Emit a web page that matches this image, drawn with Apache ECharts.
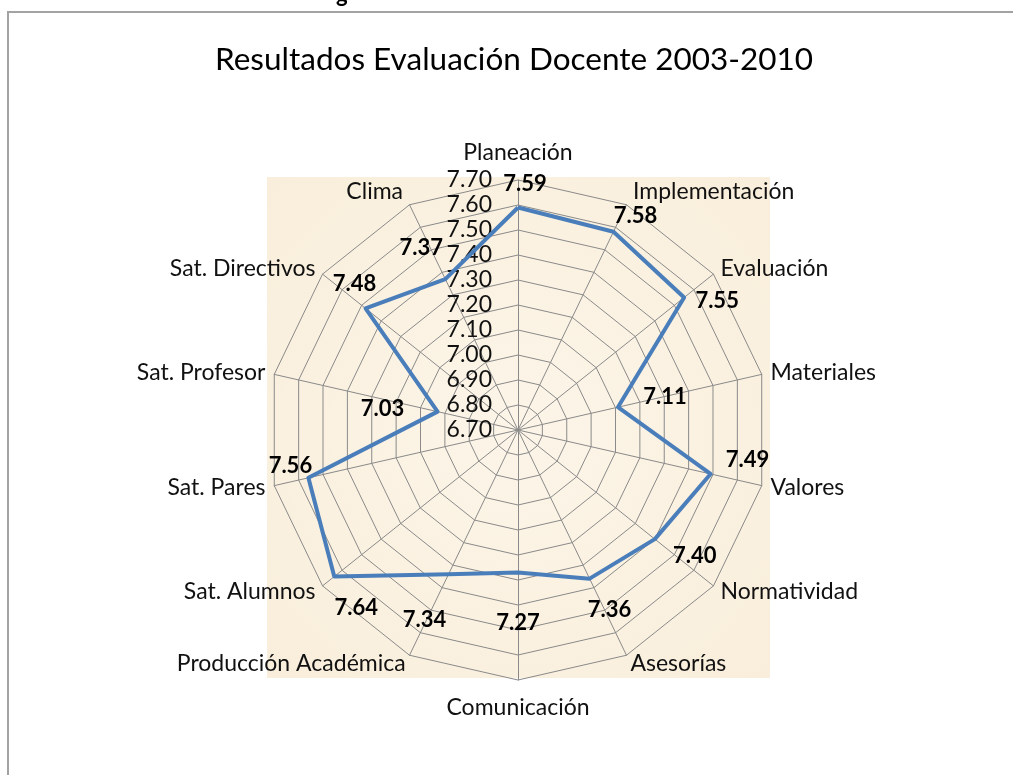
<!DOCTYPE html>
<html>
<head>
<meta charset="utf-8">
<script src="https://cdn.jsdelivr.net/npm/echarts@6/dist/echarts.min.js"></script>
<style>
html,body{margin:0;padding:0;background:#fff;}
#main{width:1013px;height:775px;}
</style>
</head>
<body>
<div id="main"></div>
<script>
// datos del gráfico (en el sentido de las agujas del reloj, desde arriba)
var categories = ['Planeación', 'Implementación', 'Evaluación', 'Materiales', 'Valores', 'Normatividad', 'Asesorías',
                  'Comunicación', 'Producción Académica', 'Sat. Alumnos', 'Sat. Pares', 'Sat. Profesor', 'Sat. Directivos', 'Clima'];
var scores = [7.59, 7.58, 7.55, 7.11, 7.49, 7.40, 7.36, 7.27, 7.34, 7.64, 7.56, 7.03, 7.48, 7.37];
var axisMin = 6.7;
var axisMax = 7.7;
var axisSteps = 10;

// donde va cada etiqueta de valor respecto a su punto (px)
var labelOffsets = [[7,-24],[22,-16],[33,3],[47,-10],[37,-14],[40,17],[20,31],
                    [0,50],[-24,46],[22,31],[-18,-12],[-55,-3],[-11,-25],[-24,-31]];
var nameGaps = [16, 15, 9, 9, 9, 9, 9, 16, 9, 9, 9, 9, 9, 15];

var font = 'Lato, "Open Sans", sans-serif';
var gridColor = '#8a8a8a';

// el radar de echarts va en sentido antihorario: invertimos el orden
var order = [0];
for (var k = categories.length - 1; k > 0; k--) order.push(k);
var orderedScores = order.map(function (i) { return scores[i]; });

var myChart = echarts.init(document.getElementById('main'));

var indicators = order.map(function (i, pos) {
    var ind = { name: categories[i], min: axisMin, max: axisMax, nameGap: nameGaps[i] };
    if (pos === 0) {
        // solo el primer eje lleva la escala
        ind.axisLabel = { show: true };
    }
    return ind;
});

var labelData = order.map(function (i) {
    return {
        value: orderedScores,
        label: { offset: labelOffsets[i] }
    };
});

var option = {
    backgroundColor: '#ffffff',
    animation: false,
    title: {
        text: 'Resultados Evaluación Docente 2003-2010',
        left: 509,
        textAlign: 'center',
        top: 39,
        textStyle: { fontFamily: font, fontSize: 31.5, fontWeight: 'normal', color: '#000' }
    },
    graphic: [
        {
            type: 'rect', z: -10, silent: true,
            shape: { x: 8, y: 12, width: 1100, height: 900 },
            style: { fill: '#fff', stroke: '#a3a3a3', lineWidth: 2 }
        },
        {
            type: 'rect', z: -9, silent: true,
            shape: { x: 267, y: 177, width: 503, height: 501 },
            style: {
                fill: new echarts.graphic.RadialGradient(0.5, 0.5, 0.7, [
                    { offset: 0, color: '#fcf5e8' },
                    { offset: 1, color: '#f9eedb' }
                ])
            }
        },
        {
            type: 'text', z: -8, silent: true,
            left: 336, top: -16,
            style: { text: 'g', font: 'bold 22px ' + font, fill: '#000' }
        }
    ],
    radar: {
        center: [518, 430],
        radius: 250,
        startAngle: 90,
        shape: 'polygon',
        splitNumber: axisSteps,
        indicator: indicators,
        axisName: {
            color: '#111',
            fontFamily: font,
            fontSize: 23
        },
        axisLine: { show: true, lineStyle: { color: gridColor, width: 1 } },
        splitLine: { show: true, lineStyle: { color: gridColor, width: 1 } },
        splitArea: { show: false },
        axisTick: { show: false },
        axisLabel: {
            show: false,
            margin: 26,
            color: '#111',
            fontFamily: font,
            fontSize: 23,
            formatter: function (v) { return Number(v).toFixed(2); }
        }
    },
    series: [
        {
            type: 'radar',
            silent: true,
            symbol: 'none',
            lineStyle: { color: '#4a7ebb', width: 4 },
            data: [{ value: orderedScores, name: 'Resultados' }]
        },
        {
            // capa solo para las etiquetas de valor
            type: 'radar',
            silent: true,
            symbol: 'circle',
            symbolSize: 1,
            itemStyle: { color: 'rgba(0,0,0,0)' },
            lineStyle: { width: 0, opacity: 0 },
            label: {
                show: true,
                position: 'inside',
                color: '#000',
                fontFamily: font,
                fontSize: 22,
                fontWeight: 'bold',
                formatter: function (p) {
                    return p.dimensionIndex === p.dataIndex ? Number(p.value).toFixed(2) : '';
                }
            },
            data: labelData
        }
    ]
};

myChart.setOption(option);
</script>
</body>
</html>
